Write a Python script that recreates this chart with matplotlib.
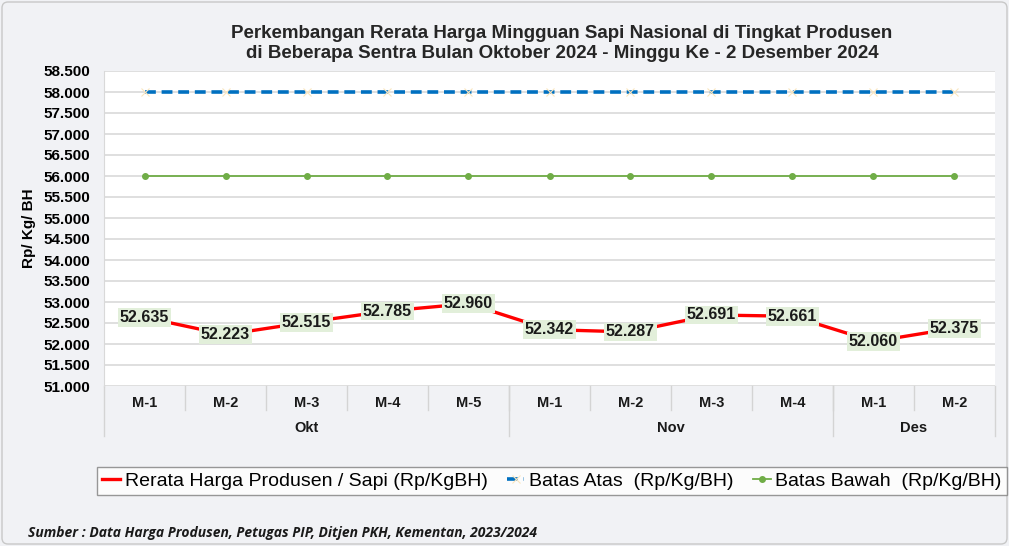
import matplotlib.pyplot as plt
from matplotlib.patches import FancyBboxPatch
from matplotlib.ticker import FuncFormatter
import matplotlib.transforms as mtransforms

# data
weeks = ['M-1', 'M-2', 'M-3', 'M-4', 'M-5', 'M-1', 'M-2', 'M-3', 'M-4', 'M-1', 'M-2']
months = ['Okt', 'Nov', 'Des']
month_sizes = [5, 4, 2]
rerata = [52635, 52223, 52515, 52785, 52960, 52342, 52287, 52691, 52661, 52060, 52375]
batas_atas = [58000] * 11
batas_bawah = [56000] * 11

plt.rcParams['font.family'] = ['Liberation Sans', 'DejaVu Sans']

W, H = 1009, 546
fig = plt.figure(figsize=(W / 100, H / 100), dpi=100)
fig.patch.set_facecolor('#f1f2f5')

# outer border
fig.patches.append(FancyBboxPatch((2, 2), W - 4, H - 4, boxstyle='round,pad=0,rounding_size=6',
                                  transform=None, fill=False, edgecolor='#c8c8c8', lw=1))

# plot area in pixel coords
left, right, top, bottom = 104, 995, 71, 386
ax = fig.add_axes([left / W, 1 - bottom / H, (right - left) / W, (bottom - top) / H])
ax.set_facecolor('white')

x = list(range(len(weeks)))
ax.plot(x, batas_atas, color='#0070c0', lw=2.6, ls=(0, (3, 1.6)), marker='x', ms=6,
        mec='#f9e6c0', mew=0.8, label='Batas Atas  (Rp/Kg/BH)', zorder=3)
ax.plot(x, batas_bawah, color='#70ad47', lw=1.3, marker='o', ms=4,
        mfc='#70ad47', mec='#70ad47', label='Batas Bawah  (Rp/Kg/BH)', zorder=3)
ax.plot(x, rerata, color='#ff0000', lw=2.4, label='Rerata Harga Produsen / Sapi (Rp/KgBH)', zorder=4)

for xi, v in zip(x, rerata):
    ax.text(xi, v, f'{v:,}'.replace(',', '.'), ha='center', va='center', fontsize=11.5,
            fontweight='bold', color='#1a1a1a', zorder=5,
            bbox=dict(boxstyle='square,pad=0.12', fc='#e2efda', ec='none'))

ax.set_xlim(-0.5, len(weeks) - 0.5)
ax.set_ylim(51000, 58500)
ax.set_yticks(range(51000, 58501, 500))
ax.yaxis.set_major_formatter(FuncFormatter(lambda v, p: f'{int(v):,}'.replace(',', '.')))
ax.tick_params(axis='y', length=0, labelsize=11, pad=10)
for lab in ax.get_yticklabels():
    lab.set_fontweight('bold')
ax.grid(axis='y', color='#d9d9d9', lw=1.2)
ax.set_axisbelow(True)
for s in ['top', 'right', 'bottom']:
    ax.spines[s].set_visible(False)
ax.spines['left'].set_color('#d9d9d9')

# category axis
ax.set_xticks([])
trans = mtransforms.blended_transform_factory(ax.transData, ax.transAxes)
ph = bottom - top
for xi, w in zip(x, weeks):
    ax.text(xi, -(403 - bottom) / ph, w, transform=trans, ha='center', va='center',
            fontsize=10.5, fontweight='bold', color='#1a1a1a')
# separators between weeks
for k in range(1, len(weeks)):
    ax.plot([k - 0.5, k - 0.5], [0, -(410 - bottom) / ph], transform=trans,
            color='#d4d4d4', lw=1, clip_on=False)
start = 0
bounds = [-0.5]
for m, n in zip(months, month_sizes):
    ax.text(start + (n - 1) / 2, -(428 - bottom) / ph, m, transform=trans, ha='center',
            va='center', fontsize=10.5, fontweight='bold', color='#1a1a1a')
    start += n
    bounds.append(start - 0.5)
for b in bounds:
    ax.plot([b, b], [0, -(436 - bottom) / ph], transform=trans,
            color='#d4d4d4', lw=1, clip_on=False)

ax.set_ylabel('Rp/ Kg/ BH', fontsize=11, fontweight='bold', labelpad=5)

fig.text(562 / W, 1 - 33 / H, 'Perkembangan Rerata Harga Mingguan Sapi Nasional di Tingkat Produsen',
         ha='center', va='center', fontsize=13.5, fontweight='bold', color='#262626')
fig.text(562 / W, 1 - 53 / H, 'di Beberapa Sentra Bulan Oktober 2024 - Minggu Ke - 2 Desember 2024',
         ha='center', va='center', fontsize=13.5, fontweight='bold', color='#262626')

handles, labels = ax.get_legend_handles_labels()
order = [2, 0, 1]
leg = fig.legend([handles[i] for i in order], [labels[i] for i in order],
                 loc='center', bbox_to_anchor=(552 / W, 1 - 481 / H), ncol=3,
                 fontsize=14, frameon=True, fancybox=False, handlelength=0.9,
                 handletextpad=0.25, columnspacing=1.0, borderpad=0.25)
leg.get_frame().set_edgecolor('#7f7f7f')
leg.get_frame().set_facecolor('white')
leg.get_frame().set_linewidth(1)

fig.text(28 / W, 1 - 533 / H,
         'Sumber : Data Harga Produsen, Petugas PIP, Ditjen PKH, Kementan, 2023/2024',
         ha='left', va='center', fontsize=10, fontweight='bold', fontstyle='italic',
         color='#1a1a1a', family=['Open Sans', 'DejaVu Sans'])

fig.savefig('out.png', dpi=100, facecolor=fig.get_facecolor())
